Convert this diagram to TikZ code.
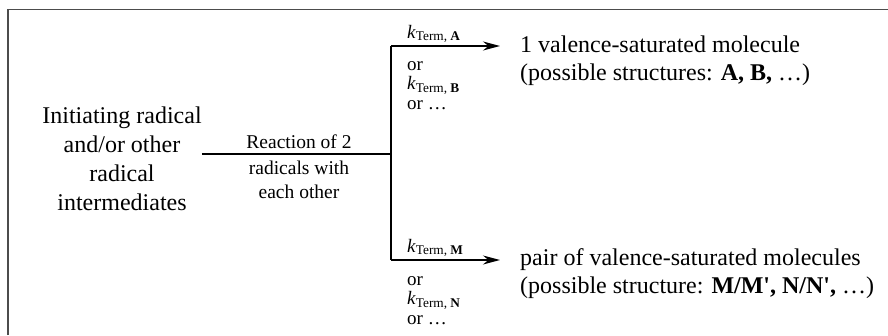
\documentclass[tikz,border=0pt]{standalone}
\usepackage{fontspec}
\setmainfont{Liberation Serif}
\usetikzlibrary{arrows.meta,positioning}
\tikzset{
      bigtext/.style={
        font=\fontsize{24}{29}\selectfont,
        inner sep=0pt,
        align=#1
      },
      smalltext/.style={
        font=\fontsize{19}{19.5}\selectfont,
        inner sep=0pt,
        align=#1
      },
      framebox/.style={draw=black!70, line width=1.5pt},
      mainline/.style={line width=2.2pt},
      forkline/.style={line width=1.7pt},
      branch/.style={line width=1.3pt, -{Stealth[length=17pt,width=9pt]}},
    }
\newcommand{\kterm}[1]{\textit{k}\textsubscript{Term, \textbf{#1}}}
\newcommand{\pr}{\textquotesingle}
\begin{document}
\begin{tikzpicture}[x=1pt,y=-1pt]
          \useasboundingbox (0,0) rectangle (888,335);
          % frame, cut at right and bottom
          \draw[framebox] (8,335) -- (8,9.5) -- (888,9.5);

          \node[bigtext=center] at (122,159)
            (init)
            {Initiating radical\\and/or other\\radical\\intermediates};
          \coordinate (fork) at (391,154);
          \coordinate (forkup) at (391,46);
          \coordinate (forkdown) at (391,260);
          \coordinate (tipup) at (500,46);
          \coordinate (tipdown) at (500,260);

          % multi-line nodes: base is the last line
          \node[smalltext=center,anchor=base,font=\fontsize{19.5}{24}\selectfont] at (299,148)
            (react1)
            {Reaction of 2};
          \node[smalltext=center,anchor=base,font=\fontsize{19.5}{24}\selectfont] at (299,198)
            (react2)
            {radicals with\\each other};

          \node[smalltext=left,anchor=base west] at (407,38)
            (kA)
            {\kterm{A}};
          \node[smalltext=left,anchor=base west] at (407,109)
            (orA)
            {or\\\kterm{B}\\or \ldots};
          \node[smalltext=left,anchor=base west] at (407,252)
            (kM)
            {\kterm{M}};
          \node[smalltext=left,anchor=base west] at (407,324)
            (orM)
            {or\\\kterm{N}\\or \ldots};

          \node[bigtext=left,anchor=base west,font=\fontsize{24}{28}\selectfont] at (520,80)
            (prodA)
            {1 valence-saturated molecule\\(possible structures: \textbf{A, B,} \ldots)};
          \node[bigtext=left,anchor=base west,font=\fontsize{24}{28}\selectfont] at (520,293)
            (prodM)
            {pair of valence-saturated molecules\\(possible structure: \textbf{M/M\pr, N/N\pr,} \ldots)};

          \draw[mainline] (init.east |- fork) -- (fork);
          \draw[forkline] (forkup) -- (forkdown);
          \draw[branch] (forkup) -- (tipup);
          \draw[branch] (forkdown) -- (tipdown);
        \end{tikzpicture}
\end{document}
